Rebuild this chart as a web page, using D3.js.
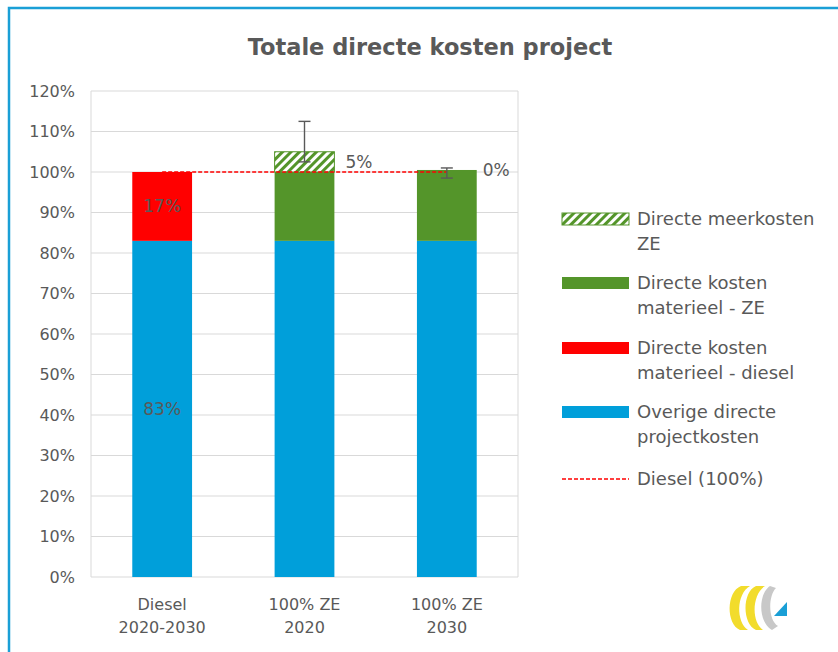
<!DOCTYPE html>
<html>
<head>
<meta charset="utf-8">
<script src="https://cdn.jsdelivr.net/npm/d3@7"></script>
<style>
body{margin:0;background:#fff;}
text{font-family:"DejaVu Sans",sans-serif;fill:#595959;}
</style>
</head>
<body>
<div class="canvas" id="canvas" style="width:838px;height:652px;"></div>
<script>
// data
var categories = ['Diesel|2020-2030','100% ZE|2020','100% ZE|2030'];
var overig = [83,83,83];
var materieelDiesel = [17,0,0];
var materieelZE = [0,17,17.5];
var meerkosten = [0,5,0];
var errLow = [null,102.5,98.5];
var errHigh = [null,112.5,101];
var dieselRef = [100,100,100];
var barLabels = [['83%','17%'],['5%'],['0%']];
var yTicks = [0,10,20,30,40,50,60,70,80,90,100,110,120];
var legendItems = [
  {name:['Directe meerkosten','ZE'], type:'hatch'},
  {name:['Directe kosten','materieel - ZE'], type:'#54952a'},
  {name:['Directe kosten','materieel - diesel'], type:'#ff0000'},
  {name:['Overige directe','projectkosten'], type:'#009fda'},
  {name:['Diesel (100%)'], type:'line'}
];

var m = {t:91,l:91,r:320,b:75};
var outerWidth = 838, outerHeight = 652;
var w = outerWidth - m.l - m.r,
    h = outerHeight - m.t - m.b;

var svg = d3.select('.canvas').append('svg')
    .attr('width',outerWidth)
    .attr('height',outerHeight);

// frame
svg.append('path')
    .attr('d','M9,652 V8 H838')
    .attr('fill','none')
    .attr('stroke','#1a9fd6')
    .attr('stroke-width',2.5);

var defs = svg.append('defs');
var pat = defs.append('pattern')
    .attr('id','hatch')
    .attr('patternUnits','userSpaceOnUse')
    .attr('width',6).attr('height',6)
    .attr('patternTransform','rotate(45)');
pat.append('rect').attr('width',6).attr('height',6).attr('fill','#54952a');
pat.append('rect').attr('width',3).attr('height',6).attr('fill','#fff');

svg.append('text')
    .attr('x',430).attr('y',55)
    .attr('text-anchor','middle')
    .style('font-size','22.5px')
    .style('font-weight','bold')
    .text('Totale directe kosten project');

var plot = svg.append('g')
    .attr('transform','translate('+m.l+','+m.t+')');

var scaleX = d3.scaleBand()
    .domain(categories)
    .range([0,w])
    .paddingInner(0.58)
    .paddingOuter(0.29);

var scaleY = d3.scaleLinear()
    .domain([0,120])
    .range([h,0]);

// gridlines
plot.selectAll('.grid').data(yTicks).enter().append('line')
    .attr('x1',0).attr('x2',w)
    .attr('y1',function(d){return scaleY(d);})
    .attr('y2',function(d){return scaleY(d);})
    .attr('stroke','#d9d9d9');
plot.append('line').attr('x1',0).attr('x2',0).attr('y1',0).attr('y2',h).attr('stroke','#d9d9d9');
plot.append('line').attr('x1',w).attr('x2',w).attr('y1',0).attr('y2',h).attr('stroke','#d9d9d9');

var axisY = d3.axisLeft(scaleY)
    .tickValues(yTicks)
    .tickSize(0)
    .tickPadding(16)
    .tickFormat(function(d){return d+'%';});
var yNode = plot.append('g').call(axisY);
yNode.select('.domain').remove();
yNode.selectAll('text').style('font-size','16px').style('font-family','"DejaVu Sans",sans-serif').attr('fill','#595959');

// x labels
categories.forEach(function(c){
  var parts = c.split('|');
  var t = plot.append('text')
      .attr('x',scaleX(c)+scaleX.bandwidth()/2)
      .attr('y',h+33)
      .attr('text-anchor','middle')
      .style('font-size','16px');
  parts.forEach(function(p,i){
    t.append('tspan').attr('x',scaleX(c)+scaleX.bandwidth()/2).attr('dy',i==0?0:23).text(p);
  });
});

// stacked bars
var series = [
  {vals:overig, fill:'#009fda'},
  {vals:materieelDiesel, fill:'#ff0000'},
  {vals:materieelZE, fill:'#54952a'},
  {vals:meerkosten, fill:'url(#hatch)'}
];
categories.forEach(function(c,i){
  var base = 0;
  series.forEach(function(s){
    var v = s.vals[i];
    if(v>0){
      plot.append('rect')
          .attr('x',scaleX(c))
          .attr('width',scaleX.bandwidth())
          .attr('y',scaleY(base+v))
          .attr('height',scaleY(base)-scaleY(base+v))
          .attr('fill',s.fill)
          .attr('stroke',s.fill=='url(#hatch)'?'#54952a':'none');
    }
    base += v;
  });
});

// diesel reference line
var line = d3.line()
    .x(function(d,i){return scaleX(categories[i])+scaleX.bandwidth()/2;})
    .y(function(d){return scaleY(d);});
plot.append('path')
    .datum(dieselRef)
    .attr('d',line)
    .attr('fill','none')
    .attr('stroke','#ff0000')
    .attr('stroke-width',1.3)
    .attr('stroke-dasharray','4,2');

// error bars
categories.forEach(function(c,i){
  if(errLow[i]==null) return;
  var cx = scaleX(c)+scaleX.bandwidth()/2;
  var g = plot.append('g').attr('stroke','#595959').attr('stroke-width',1.4);
  g.append('line').attr('x1',cx).attr('x2',cx).attr('y1',scaleY(errLow[i])).attr('y2',scaleY(errHigh[i]));
  g.append('line').attr('x1',cx-6).attr('x2',cx+6).attr('y1',scaleY(errLow[i])).attr('y2',scaleY(errLow[i]));
  g.append('line').attr('x1',cx-6).attr('x2',cx+6).attr('y1',scaleY(errHigh[i])).attr('y2',scaleY(errHigh[i]));
});

// data labels
var cx0 = scaleX(categories[0])+scaleX.bandwidth()/2;
plot.append('text').attr('x',cx0).attr('y',scaleY(overig[0]/2)+6).attr('text-anchor','middle').style('font-size','17px').text(barLabels[0][0]);
plot.append('text').attr('x',cx0).attr('y',scaleY(overig[0]+materieelDiesel[0]/2)+6).attr('text-anchor','middle').style('font-size','17px').text(barLabels[0][1]);
plot.append('text').attr('x',scaleX(categories[1])+scaleX.bandwidth()+11).attr('y',scaleY(overig[1]+materieelZE[1]+meerkosten[1]/2)+6).style('font-size','17px').text(barLabels[1][0]);
plot.append('text').attr('x',scaleX(categories[2])+scaleX.bandwidth()+6).attr('y',scaleY(overig[2]+materieelZE[2])+6).style('font-size','17px').text(barLabels[2][0]);

// legend
var legendY = [219,283,348,412,479];
var legend = svg.append('g');
legendItems.forEach(function(d,i){
  var y = legendY[i];
  if(d.type=='line'){
    legend.append('line').attr('x1',562).attr('x2',629).attr('y1',y).attr('y2',y)
        .attr('stroke','#ff0000').attr('stroke-width',1.3).attr('stroke-dasharray','4,2');
  } else {
    legend.append('rect').attr('x',562).attr('y',y-6).attr('width',67).attr('height',12)
        .attr('fill',d.type=='hatch'?'url(#hatch)':d.type)
        .attr('stroke',d.type=='hatch'?'#54952a':'none');
  }
  var t = legend.append('text').attr('x',637).attr('y',y+6).style('font-size','18px');
  d.name.forEach(function(n,j){
    t.append('tspan').attr('x',637).attr('dy',j==0?0:25).text(n);
  });
});

// logo (rough)
var logo = svg.append('g').attr('transform','translate(728,586)');
logo.append('path').attr('d','M13,0 C-2,6 -2,38 12,44 L20,44 C8,36 8,8 22,0 Z').attr('fill','#f2dc2c');
logo.append('path').attr('d','M28,0 C14,6 14,38 28,44 L35,44 C23,36 24,8 37,0 Z').attr('fill','#f2dc2c');
logo.append('path').attr('d','M42,0 C30,8 30,36 44,44 L50,40 C40,34 40,10 48,2 Z').attr('fill','#c8c8c8');
logo.append('path').attr('d','M46,30 L59,16 L59,30 Z').attr('fill','#1a9fd6');
</script>
</body>
</html>
